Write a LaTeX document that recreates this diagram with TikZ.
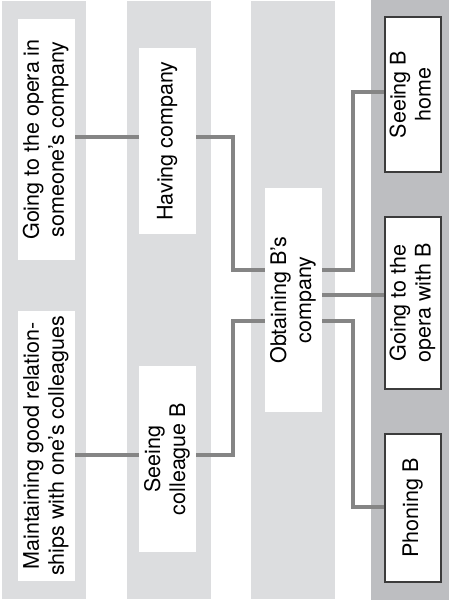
\documentclass[tikz,border=0pt]{standalone}
\usepackage{fontspec}
\setmainfont{TeX Gyre Heros}
\usetikzlibrary{calc}
\definecolor{bandlight}{RGB}{220,221,223}
\definecolor{banddark}{RGB}{189,190,193}
\definecolor{connline}{RGB}{133,133,133}
\definecolor{boxline}{RGB}{60,60,60}
\newcommand{\vtext}[1]{\rotatebox{90}{\begin{tabular}{@{}c@{}}#1\end{tabular}}}
\begin{document}
\begin{tikzpicture}[x=1pt,y=-1pt,
  goalbox/.style={fill=white,draw=none,inner sep=0pt,minimum width=57pt,
    font=\fontsize{21.5}{25}\selectfont},
  actbox/.style={goalbox,draw=boxline,line width=1.2pt,minimum width=56pt},
  conn/.style={draw=connline,line width=3.2pt,line join=miter}]
\useasboundingbox (0,0) rectangle (449,600);
% background bands
\fill[bandlight] (2,1) rectangle (86,599);
\fill[bandlight] (127,1) rectangle (211,599);
\fill[bandlight] (251,1) rectangle (335,599);
\fill[banddark] (371,0) rectangle (449,600);
% bend columns for the connectors
\coordinate (jl) at (233,0);
\coordinate (jr) at (353,0);
% nodes
\node[goalbox,minimum height=241pt] (opera) at (46.5,139.5)
  {\vtext{Going to the opera in\\someone’s company}};
\node[goalbox,minimum height=270pt] (maint) at (46.5,446)
  {\vtext{Maintaining good relation-\\ships with one’s colleagues}};
\node[goalbox,minimum height=186pt] (hc) at (167.5,141)
  {\vtext{Having company}};
\node[goalbox,minimum height=186pt] (sc) at (167.5,459)
  {\vtext{Seeing\\colleague B}};
\node[goalbox,minimum height=224pt] (obt) at (293.5,300)
  {\vtext{Obtaining B’s\\company}};
\node[actbox,minimum height=155pt] (sbh) at (413,94.5)
  {\vtext{Seeing B\\home}};
\node[actbox,minimum height=172pt] (owb) at (413,303)
  {\vtext{Going to the\\opera with B}};
\node[actbox,minimum height=148pt] (ph) at (413,508)
  {\vtext{Phoning B}};
% connectors
\draw[conn] (opera.east |- 0,137) -- (hc.west |- 0,137);
\draw[conn] (maint.east |- 0,455) -- (sc.west |- 0,455);
\draw[conn] (hc.east |- 0,137) -| (jl |- 0,270) -- (obt.west |- 0,270);
\draw[conn] (sc.east |- 0,455) -| (jl |- 0,321) -- (obt.west |- 0,321);
\draw[conn] (obt.east |- 0,270) -| (jr |- 0,92) -- (sbh.west |- 0,92);
\draw[conn] (obt.east |- 0,295) -- (owb.west |- 0,295);
\draw[conn] (obt.east |- 0,321) -| (jr |- 0,507) -- (ph.west |- 0,507);
\end{tikzpicture}
\end{document}
